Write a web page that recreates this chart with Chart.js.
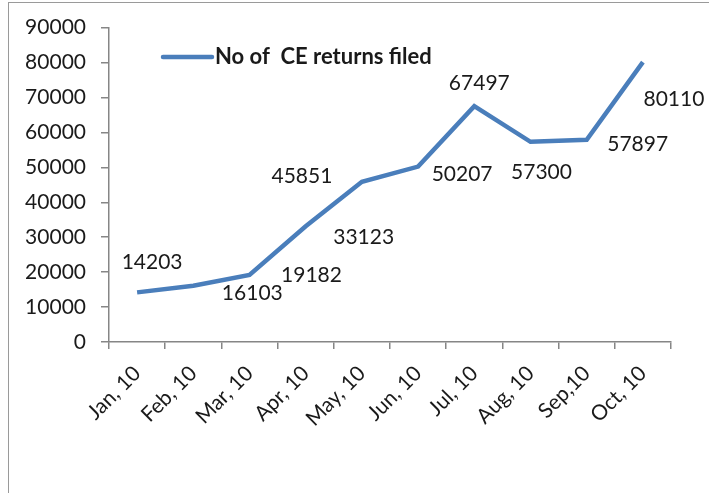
<!DOCTYPE html>
<html>
<head>
<meta charset="utf-8">
<script src="https://cdn.jsdelivr.net/npm/chart.js@4/dist/chart.umd.min.js"></script>
<style>
  html, body { margin: 0; padding: 0; background: #fff; overflow: hidden; }
  #wrap { position: relative; width: 709px; height: 493px; }
  #frame { position: absolute; left: 8px; top: 2px; width: 740px; height: 540px; border: 1.5px solid #9a9a9a; box-sizing: border-box; pointer-events: none; }
  canvas { position: absolute; left: 0; top: 0; }
</style>
</head>
<body>
<div id="wrap">
  <canvas id="c" width="709" height="493"></canvas>
  <div id="frame"></div>
</div>
<script>
const categories = ["Jan, 10", "Feb, 10", "Mar, 10", "Apr, 10", "May, 10", "Jun, 10", "Jul, 10", "Aug, 10", "Sep,10", "Oct, 10"];
const seriesName = "No of  CE returns filed";
const returnsFiled = [14203, 16103, 19182, 33123, 45851, 50207, 67497, 57300, 57897, 80110];
const yTicks = [0, 10000, 20000, 30000, 40000, 50000, 60000, 70000, 80000, 90000];

// label placement offsets in pixels relative to each point (style only)
const labelOffsets = [[15,-30],[59,7],[62,0],[58,11],[-60,-6],[44,8],[5,-23],[11,30],[51,4],[31,37]];

const FONT = "Lato, 'Open Sans', sans-serif";
const LINE_COLOR = "#4A7EBB";

const dataLabelPlugin = {
  id: 'dataLabels',
  afterDatasetsDraw(chart) {
    const ctx = chart.ctx;
    const meta = chart.getDatasetMeta(0);
    ctx.save();
    ctx.font = "21px " + FONT;
    ctx.fillStyle = "#1a1a1a";
    ctx.textAlign = "center";
    ctx.textBaseline = "middle";
    meta.data.forEach((pt, i) => {
      const off = labelOffsets[i] || [0, -20];
      ctx.fillText(String(chart.data.datasets[0].data[i]), pt.x + off[0], pt.y + off[1]);
    });
    ctx.restore();
  }
};

const insideLegendPlugin = {
  id: 'insideLegend',
  afterDraw(chart) {
    const ctx = chart.ctx;
    ctx.save();
    ctx.strokeStyle = LINE_COLOR;
    ctx.lineWidth = 4.5;
    ctx.lineCap = "round";
    ctx.beginPath();
    ctx.moveTo(163, 57);
    ctx.lineTo(212, 57);
    ctx.stroke();
    ctx.font = "bold 22px " + FONT;
    ctx.fillStyle = "#1a1a1a";
    ctx.textAlign = "left";
    ctx.textBaseline = "middle";
    ctx.fillText(chart.data.datasets[0].label, 215, 57);
    ctx.restore();
  }
};

new Chart(document.getElementById('c'), {
  type: 'line',
  data: {
    labels: categories,
    datasets: [{
      label: seriesName,
      data: returnsFiled,
      borderColor: LINE_COLOR,
      backgroundColor: LINE_COLOR,
      borderWidth: 4.5,
      pointRadius: 0,
      tension: 0,
      fill: false
    }]
  },
  options: {
    responsive: false,
    animation: false,
    devicePixelRatio: 1,
    layout: { padding: { top: 23, right: 38, left: 0, bottom: 0 } },
    plugins: {
      legend: { display: false },
      tooltip: { enabled: false }
    },
    scales: {
      x: {
        type: 'category',
        offset: true,
        grid: { offset: true, drawOnChartArea: false, drawTicks: true, tickLength: 7, color: '#868686', lineWidth: 1.5 },
        border: { color: '#868686', width: 1.5 },
        ticks: {
          minRotation: 45, maxRotation: 45, autoSkip: false,
          color: '#1a1a1a', padding: 12,
          font: { family: FONT, size: 21 }
        },
        afterFit(scale) { scale.height = 151; }
      },
      y: {
        min: 0, max: 90000,
        afterBuildTicks(scale) { scale.ticks = yTicks.map(v => ({ value: v })); },
        grid: { drawOnChartArea: false, drawTicks: true, tickLength: 8, color: '#868686', lineWidth: 1.5 },
        border: { color: '#868686', width: 1.5 },
        ticks: {
          color: '#1a1a1a', padding: 15,
          font: { family: FONT, size: 21 },
          callback: (v) => String(v)
        },
        afterFit(scale) { scale.width = 109; }
      }
    }
  },
  plugins: [dataLabelPlugin, insideLegendPlugin]
});
</script>
</body>
</html>
